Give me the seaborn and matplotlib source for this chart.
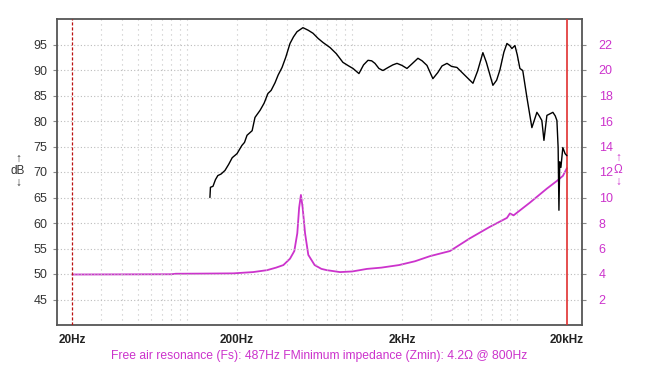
import matplotlib
matplotlib.use("Agg")
import matplotlib.pyplot as plt
import matplotlib.ticker as mticker
import matplotlib.transforms as mtrans
import numpy as np
import pandas as pd
import seaborn as sns

# ---------------- data ----------------
spl_freq = [137, 138, 143, 148, 153, 160, 169, 178, 187, 200, 214, 222, 230, 247, 257,
            276, 292, 308, 322, 340, 355, 375, 395, 419, 440, 462, 502, 540, 578, 620,
            664, 733, 800, 877, 950, 1010, 1097, 1170, 1245, 1310, 1372, 1450, 1534,
            1650, 1760, 1866, 2000, 2145, 2300, 2500, 2650, 2836, 3080, 3300, 3500,
            3750, 4000, 4310, 4800, 5390, 5750, 6190, 6500, 7120, 7500, 7850, 8300,
            8660, 9000, 9280, 9680, 10000, 10380, 10800, 11450, 12270, 13160, 13600,
            14100, 14520, 15130, 16450, 17000, 17400, 17700, 17900, 18100, 18400,
            18900, 19500, 20000]
spl_db = [65.0, 67.0, 67.2, 68.5, 69.3, 69.6, 70.3, 71.5, 72.8, 73.6, 75.2, 75.8, 77.2,
          78.1, 80.7, 82.1, 83.5, 85.4, 86.0, 87.5, 89.0, 90.5, 92.5, 95.2, 96.5, 97.5,
          98.3, 97.8, 97.2, 96.2, 95.4, 94.4, 93.2, 91.5, 90.8, 90.3, 89.3, 91.0, 91.9,
          91.8, 91.3, 90.3, 89.9, 90.5, 91.0, 91.3, 90.9, 90.3, 91.2, 92.3, 91.8, 90.9,
          88.3, 89.5, 90.8, 91.3, 90.7, 90.5, 89.0, 87.4, 89.8, 93.4, 91.5, 87.0, 88.0,
          90.0, 93.5, 95.2, 94.8, 94.2, 94.8, 93.0, 90.3, 89.9, 84.6, 78.7, 81.7, 81.0,
          80.1, 76.2, 81.1, 81.7, 81.0, 80.1, 74.8, 62.5, 72.0, 70.9, 74.8, 73.6, 73.2]

imp_freq = [20, 40, 80, 85, 120, 190, 250, 304, 345, 382, 419, 445, 464, 476, 488, 500,
            517, 541, 591, 650, 702, 842, 1000, 1227, 1500, 1918, 2400, 2958, 3908,
            5165, 6825, 8660, 9030, 9500, 11940, 15130, 17400, 18930, 20000]
imp_ohm = [3.96, 3.97, 3.98, 4.02, 4.03, 4.05, 4.15, 4.3, 4.5, 4.7, 5.2, 5.8, 7.2, 9.2,
           10.2, 9.2, 7.2, 5.5, 4.7, 4.4, 4.3, 4.15, 4.2, 4.4, 4.5, 4.7, 5.0, 5.4, 5.8,
           6.8, 7.7, 8.4, 8.75, 8.6, 9.6, 10.7, 11.3, 11.7, 12.3]

db_ticks = [45, 50, 55, 60, 65, 70, 75, 80, 85, 90, 95]
ohm_ticks = [2, 4, 6, 8, 10, 12, 14, 16, 18, 20, 22]
freq_labels = ["20Hz", "200Hz", "2kHz", "20kHz"]
freq_label_pos = [20, 200, 2000, 20000]
footer = "Free air resonance (Fs): 487Hz FMinimum impedance (Zmin): 4.2\u03a9 @ 800Hz"

MAG = "#cc33cc"

# ---------------- style ----------------
sns.set_style("white")
plt.rcParams["font.family"] = ["Liberation Sans", "DejaVu Sans"]

fig = plt.figure(figsize=(6.52, 3.86), dpi=100)
ax = fig.add_axes([57 / 652, 1 - 325 / 386, (582 - 57) / 652, (325 - 19) / 386])

spl_df = pd.DataFrame({"freq": spl_freq, "db": spl_db})
imp_df = pd.DataFrame({"freq": imp_freq, "ohm": imp_ohm})

ax.set_xscale("log")
ax.set_xlim(16.2, 24700)
ax.set_ylim(40, 100)

# grid
ax.xaxis.set_major_locator(mticker.FixedLocator([100, 1000, 10000]))
minor = [m * d for d in (10, 100, 1000) for m in range(2, 10)] + [10000]
minor = [v for v in minor if v > 20 and v not in (100, 1000, 10000)]
ax.xaxis.set_minor_locator(mticker.FixedLocator(minor))
ax.xaxis.set_major_formatter(mticker.NullFormatter())
ax.xaxis.set_minor_formatter(mticker.NullFormatter())
ax.grid(True, which="both", axis="x", color="#c4c4c4", linestyle=(0, (1, 3.5)), lw=0.8)
ax.set_yticks(db_ticks)
ax.grid(True, which="major", axis="y", color="#bcbcbc", linestyle=(0, (1, 2)), lw=0.8)
ax.tick_params(axis="x", which="major", length=7, width=1, color="#666666", direction="out")
ax.tick_params(axis="x", which="minor", length=4, width=0.8, color="#888888", direction="out")
ax.tick_params(axis="y", which="major", length=3, width=0.8, color="#888888",
               pad=4, labelsize=9, labelcolor="#333333")
for sp in ax.spines.values():
    sp.set_color("#555555")
    sp.set_linewidth(1.3)

# red markers at 20 Hz / 20 kHz
ax.axvline(20, color="#bb1111", lw=0.9, linestyle=(0, (2.5, 1.5)), zorder=3)
ax.axvline(20000, color="#e03030", lw=1.2, zorder=3)

# twin axis for impedance
ax2 = ax.twinx()
ax2.set_ylim(0, 24)
ax2.set_yticks(ohm_ticks)
ax2.tick_params(axis="y", length=3, width=0.8, color="#888888", pad=9,
                labelsize=9, labelcolor=MAG)
for sp in ax2.spines.values():
    sp.set_visible(False)

sns.lineplot(data=imp_df, x="freq", y="ohm", ax=ax2, color=MAG, lw=1.3,
             estimator=None, sort=False, legend=False)
sns.lineplot(data=spl_df, x="freq", y="db", ax=ax, color="black", lw=1.0,
             estimator=None, sort=False, legend=False, zorder=4)
ax.set_zorder(ax2.get_zorder() + 1)
ax.patch.set_visible(False)

ax.set_xlabel("")
ax.set_ylabel("")
ax2.set_xlabel("")
ax2.set_ylabel("")
ax.set_xlim(16.2, 24700)

# frequency labels
trans = mtrans.blended_transform_factory(ax.transData, ax.transAxes)
for f, lab in zip(freq_label_pos, freq_labels):
    ax.text(f, -0.05, lab, transform=trans, ha="center", va="center",
            fontsize=8.5, fontweight="bold", color="#222222",
            family=["Liberation Sans Narrow", "Liberation Sans", "DejaVu Sans"])

# axis unit labels
fig.text(18 / 652, 1 - 171 / 386, "\u2191\ndB\n\u2193", ha="center", va="center",
         fontsize=8.5, color="#333333", linespacing=1.0)
fig.text(618 / 652, 1 - 170 / 386, "\u2191\n\u03a9\n\u2193", ha="center", va="center",
         fontsize=8.5, color=MAG, linespacing=1.0)

fig.text(319 / 652, 1 - 356 / 386, footer, ha="center", va="center",
         fontsize=8.7, color=MAG)

fig.savefig("out.png", dpi=100, facecolor="white")
